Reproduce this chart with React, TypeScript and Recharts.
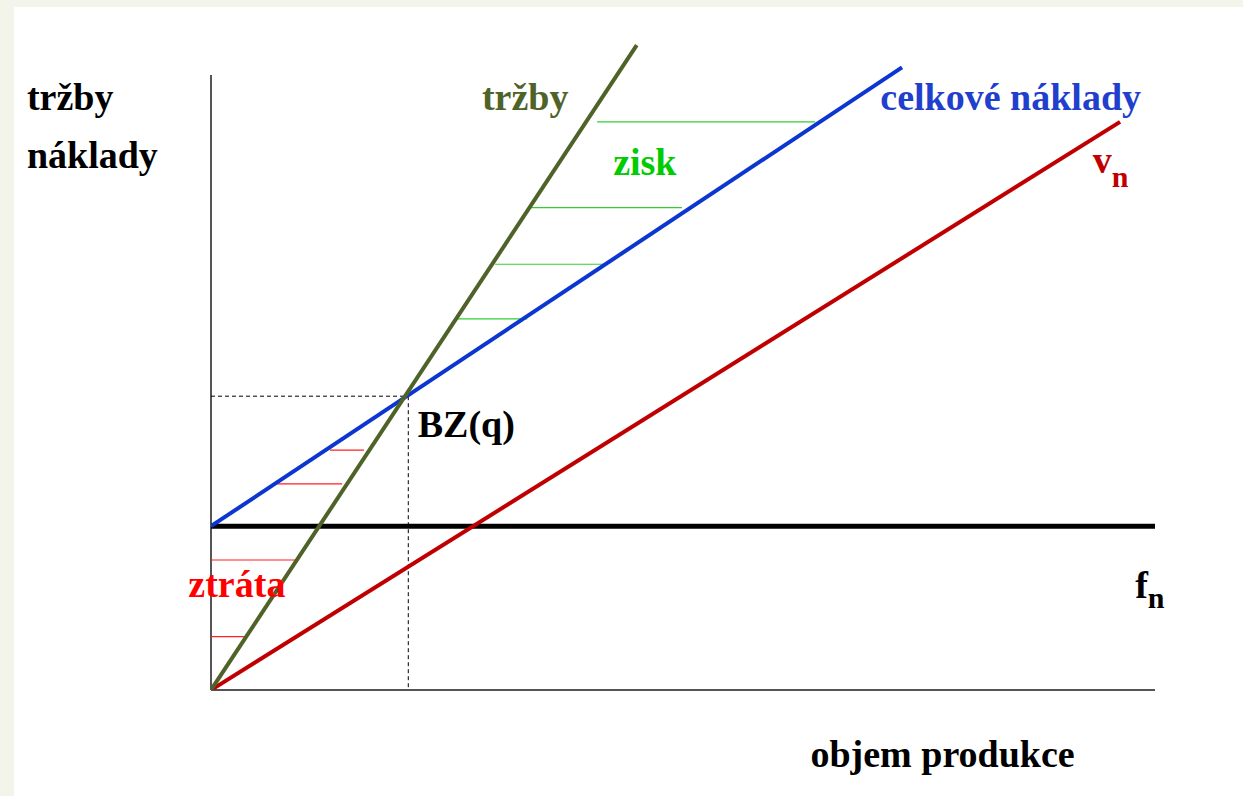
import React from 'react';
import { ComposedChart, Line, XAxis, YAxis, ReferenceLine, ReferenceDot } from 'recharts';

// x: objem produkce (0..100), y: tržby / náklady (0..100)
const revenue = [
  { x: 0, y: 0 },
  { x: 45.1, y: 99.2 },
];
const totalCosts = [
  { x: 0, y: 25.2 },
  { x: 73.2, y: 95.8 },
];
const variableCosts = [
  { x: 0, y: 0 },
  { x: 96.3, y: 87.4 },
];
const fixedCost = 25.2;
const breakEven = { x: 20.9, y: 45.2 };
const yAxisTop = 94.6;

const profitHatch = [
  { y: 87.4, x1: 40.9, x2: 64.0 },
  { y: 74.2, x1: 33.9, x2: 49.9 },
  { y: 65.5, x1: 30.1, x2: 41.8 },
  { y: 57.1, x1: 25.8, x2: 33.5 },
];
const lossHatch = [
  { y: 36.9, x1: 12.6, x2: 16.2 },
  { y: 31.7, x1: 7.0, x2: 13.9 },
  { y: 20.0, x1: 0, x2: 9.1 },
  { y: 8.2, x1: 0, x2: 3.7 },
];

type Lbl = { text: string; sub?: string; x: number; y: number; color: string };
const labels: Lbl[] = [
  { text: 'tržby', x: -19.5, y: 89.2, color: '#000000' },
  { text: 'náklady', x: -19.5, y: 80.3, color: '#000000' },
  { text: 'tržby', x: 28.7, y: 89.2, color: '#4f6228' },
  { text: 'zisk', x: 42.6, y: 79.2, color: '#00cc00' },
  { text: 'celkové náklady', x: 70.9, y: 89.2, color: '#1f3fcc' },
  { text: 'v', sub: 'n', x: 93.4, y: 79.5, color: '#c00000' },
  { text: 'BZ(q)', x: 21.9, y: 38.9, color: '#000000' },
  { text: 'ztráta', x: -2.4, y: 14.3, color: '#ff0000' },
  { text: 'f', sub: 'n', x: 97.9, y: 14.2, color: '#000000' },
  { text: 'objem produkce', x: 63.5, y: -11.8, color: '#000000' },
];

const FONT = '"Liberation Serif", "Times New Roman", serif';

export default function App() {
  return (
    <div style={{ position: 'absolute', left: 0, top: 0, width: 1243, height: 796, background: '#f3f5ea', overflow: 'hidden' }}>
      <div style={{ position: 'absolute', left: 14, top: 7, width: 1229, height: 789, background: '#ffffff' }} />
      <div style={{ position: 'absolute', left: 0, top: 0 }}>
        <ComposedChart width={1243} height={796} margin={{ top: 40, right: 88, bottom: 106, left: 211 }}>
          <XAxis type="number" dataKey="x" domain={[0, 100]} allowDataOverflow hide />
          <YAxis type="number" dataKey="y" domain={[0, 100]} allowDataOverflow hide />
          {/* axes */}
          <ReferenceLine segment={[{ x: 0, y: 0 }, { x: 0, y: yAxisTop }]} stroke="#555555" strokeWidth={2} ifOverflow="visible" />
          <ReferenceLine segment={[{ x: 0, y: 0 }, { x: 100, y: 0 }]} stroke="#555555" strokeWidth={2} ifOverflow="visible" />
          {/* break-even dashed guides */}
          <ReferenceLine segment={[{ x: 0, y: breakEven.y }, { x: breakEven.x, y: breakEven.y }]} stroke="#000000" strokeWidth={1} strokeDasharray="4 3" ifOverflow="visible" />
          <ReferenceLine segment={[{ x: breakEven.x, y: breakEven.y }, { x: breakEven.x, y: 0 }]} stroke="#000000" strokeWidth={1} strokeDasharray="4 3" ifOverflow="visible" />
          {/* hatches */}
          {profitHatch.map((h, i) => (
            <ReferenceLine key={'p' + i} segment={[{ x: h.x1, y: h.y }, { x: h.x2, y: h.y }]} stroke="#33cc33" strokeWidth={1.2} ifOverflow="visible" />
          ))}
          {lossHatch.map((h, i) => (
            <ReferenceLine key={'l' + i} segment={[{ x: h.x1, y: h.y }, { x: h.x2, y: h.y }]} stroke="#ff2020" strokeWidth={1.2} ifOverflow="visible" />
          ))}
          {/* fixed costs */}
          <ReferenceLine segment={[{ x: 0, y: fixedCost }, { x: 100, y: fixedCost }]} stroke="#000000" strokeWidth={5} ifOverflow="visible" />
          <Line data={variableCosts} type="linear" dataKey="y" stroke="#c00000" strokeWidth={4} dot={false} isAnimationActive={false} />
          <Line data={totalCosts} type="linear" dataKey="y" stroke="#0b36d0" strokeWidth={4} dot={false} isAnimationActive={false} />
          <Line data={revenue} type="linear" dataKey="y" stroke="#4f6228" strokeWidth={4} dot={false} isAnimationActive={false} />
          {labels.map((l, i) => (
            <ReferenceDot
              key={'t' + i}
              x={l.x}
              y={l.y}
              r={0}
              ifOverflow="visible"
              shape={(p: any) => (
                <text x={p.cx} y={p.cy} fill={l.color} fontFamily={FONT} fontWeight="bold" fontSize={38}>
                  {l.text}
                  {l.sub ? (
                    <tspan fontSize={30} dy={l.text === 'v' ? 14 : 10}>{l.sub}</tspan>
                  ) : null}
                </text>
              )}
            />
          ))}
        </ComposedChart>
      </div>
    </div>
  );
}
